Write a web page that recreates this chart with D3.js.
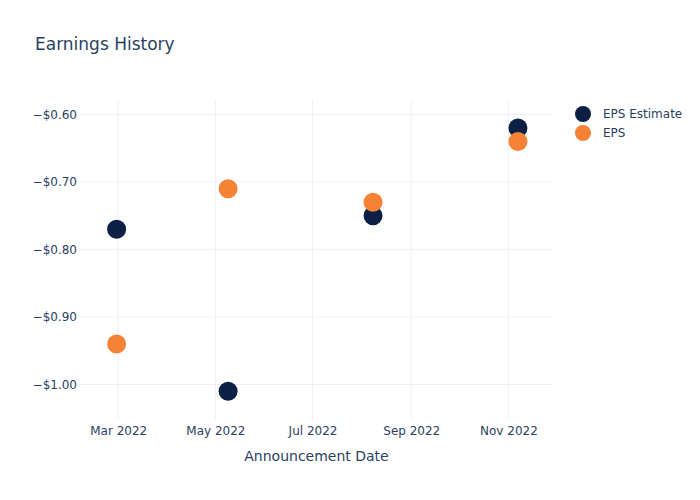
<!DOCTYPE html>
<html>
<head>
<meta charset="utf-8">
<script src="https://cdn.jsdelivr.net/npm/d3@7"></script>
<style>
body{margin:0;background:#fff;}
text{font-family:"DejaVu Sans",sans-serif;}
</style>
</head>
<body>
<svg id="chart" width="700" height="500"></svg>
<script>
const dates = ["2022-02-28","2022-05-09","2022-08-08","2022-11-07"];
const epsEstimate = [-0.77,-1.01,-0.75,-0.62];
const eps = [-0.94,-0.71,-0.73,-0.64];
const seriesNames = ["EPS Estimate","EPS"];
const seriesColors = ["#0c1f44","#f58235"];
const yTicks = [-0.6,-0.7,-0.8,-0.9,-1.0];
const xTicks = ["2022-03-01","2022-05-01","2022-07-01","2022-09-01","2022-11-01"];

const parse = d3.utcParse("%Y-%m-%d");
const svg = d3.select("#chart");
const W=700,H=500;
const m={l:80,r:147,t:100,b:80};
const x = d3.scaleUtc().domain([parse("2022-02-05"),parse("2022-11-29")]).range([m.l,W-m.r]);
const y = d3.scaleLinear().domain([-1.0526,-0.5785]).range([H-m.b,m.t]);
const txt="#2a3f5f", grid="#ebf0f8";

// gridlines
svg.append("g").selectAll("line").data(yTicks).join("line")
  .attr("x1",m.l).attr("x2",W-m.r).attr("y1",d=>y(d)).attr("y2",d=>y(d))
  .attr("stroke",grid).attr("stroke-width",1);
svg.append("g").selectAll("line").data(xTicks).join("line")
  .attr("x1",d=>x(parse(d))).attr("x2",d=>x(parse(d))).attr("y1",m.t).attr("y2",H-m.b)
  .attr("stroke",grid).attr("stroke-width",1);

// axes
const fmt = d=> "\u2212$" + Math.abs(d).toFixed(2);
const ya = svg.append("g").attr("transform",`translate(${m.l},0)`)
  .call(d3.axisLeft(y).tickValues(yTicks).tickFormat(fmt).tickSize(0).tickPadding(3));
ya.select(".domain").remove();
ya.selectAll("text").attr("fill",txt).style("font-size","12px");

const xa = svg.append("g").attr("transform",`translate(0,${H-m.b})`)
  .call(d3.axisBottom(x).tickValues(xTicks.map(parse)).tickFormat(d3.utcFormat("%b %Y")).tickSize(0).tickPadding(6));
xa.select(".domain").remove();
xa.selectAll("text").attr("fill",txt).style("font-size","12px");

// points
const series=[epsEstimate,eps];
series.forEach((vals,i)=>{
  svg.append("g").selectAll("circle").data(vals).join("circle")
    .attr("cx",(d,j)=>x(parse(dates[j]))).attr("cy",d=>y(d)).attr("r",9.5)
    .attr("fill",seriesColors[i]);
});

// title
svg.append("text").attr("x",35).attr("y",50).text("Earnings History")
  .attr("fill",txt).style("font-size","17px");
svg.append("text").attr("x",(m.l+W-m.r)/2).attr("y",461).attr("text-anchor","middle")
  .text("Announcement Date").attr("fill",txt).style("font-size","14px");

// legend
const lg = svg.append("g");
seriesNames.forEach((n,i)=>{
  lg.append("circle").attr("cx",583).attr("cy",114+i*19).attr("r",8).attr("fill",seriesColors[i]);
  lg.append("text").attr("x",603).attr("y",118+i*19).text(n).attr("fill",txt).style("font-size","12px");
});
</script>
</body>
</html>
